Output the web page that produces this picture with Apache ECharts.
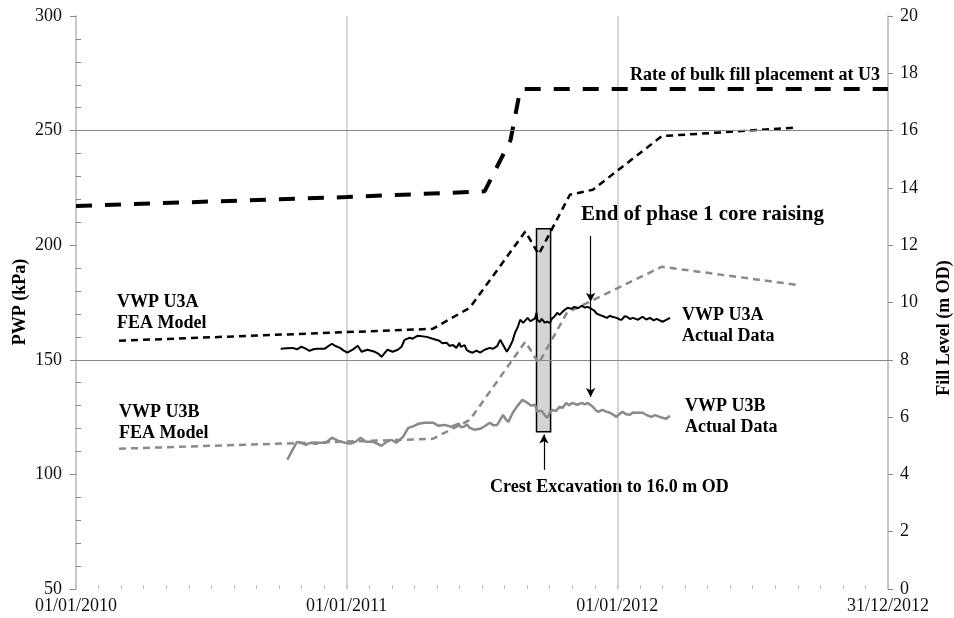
<!DOCTYPE html>
<html>
<head>
<meta charset="utf-8">
<script src="https://cdn.jsdelivr.net/npm/echarts@6/dist/echarts.min.js"></script>
<style>
html,body{margin:0;padding:0;background:#fff;}
#chart{width:954px;height:618px;}
</style>
</head>
<body>
<div id="chart"></div>
<script>
// ---- data (dates, kPa / m OD) ----
const xTickLabels = ['01/01/2010', '01/01/2011', '01/01/2012', '31/12/2012'];

const fillDates = ['2010-01-01', '2011-01-01', '2011-07-06', '2011-08-10', '2011-08-23', '2011-08-28', '2012-12-31'];
const fillLevel = [13.37, 13.68, 13.88, 15.67, 17.42, 17.45, 17.45];

const u3aFeaDates = ['2010-02-28', '2011-04-27', '2011-06-16', '2011-08-30', '2011-09-17', '2011-10-29', '2011-11-29', '2012-03-01', '2012-08-30'];
const u3aFeaKPa = [158.3, 163.5, 172.7, 206.0, 196.0, 222.0, 224.2, 247.6, 251.3];

const u3bFeaDates = ['2010-02-28', '2011-04-27', '2011-06-16', '2011-08-30', '2011-09-17', '2011-10-25', '2012-03-01', '2012-08-30'];
const u3bFeaKPa = [111.2, 115.5, 123.8, 157.9, 148.5, 170.5, 190.6, 182.7];

const u3aActual = [
  ['2010-10-04',154.8],['2010-10-12',155.0],['2010-10-20',155.2],['2010-10-26',154.6],['2010-11-01',155.7],
  ['2010-11-06',155.0],['2010-11-12',153.9],['2010-11-17',154.6],['2010-11-22',154.8],['2010-12-02',154.8],
  ['2010-12-12',157.0],['2010-12-17',156.0],['2010-12-23',155.2],['2010-12-28',154.0],['2011-01-02',153.1],
  ['2011-01-09',154.4],['2011-01-16',156.1],['2011-01-21',153.5],['2011-01-29',154.4],['2011-02-08',153.5],
  ['2011-02-13',152.6],['2011-02-17',151.3],['2011-02-25',154.4],['2011-03-04',153.5],['2011-03-11',154.4],
  ['2011-03-16',155.7],['2011-03-20',158.7],['2011-03-27',159.6],['2011-03-31',159.2],['2011-04-07',160.5],
  ['2011-04-19',160.0],['2011-04-27',159.2],['2011-05-06',158.3],['2011-05-10',157.2],['2011-05-16',157.4],
  ['2011-05-20',156.0],['2011-05-24',156.5],['2011-05-29',155.2],['2011-06-02',157.4],['2011-06-04',155.6],
  ['2011-06-06',155.2],['2011-06-09',156.4],['2011-06-12',154.2],['2011-06-16',153.5],['2011-06-20',153.1],
  ['2011-06-25',154.0],['2011-06-30',153.1],['2011-07-06',154.4],['2011-07-13',155.2],['2011-07-17',154.8],
  ['2011-07-23',156.0],['2011-07-27',158.7],['2011-07-31',156.5],['2011-08-05',153.5],['2011-08-09',155.7],
  ['2011-08-13',158.5],['2011-08-16',161.8],['2011-08-20',164.5],['2011-08-23',167.5],['2011-08-27',166.1],
  ['2011-09-02',168.3],['2011-09-06',166.8],['2011-09-09',167.5],['2011-09-12',168.0],['2011-09-14',170.5],
  ['2011-09-15',167.5],['2011-09-18',166.4],['2011-09-21',167.9],['2011-09-25',166.2],['2011-09-28',166.6],
  ['2011-10-02',166.1],['2011-10-05',168.0],['2011-10-08',168.8],['2011-10-12',170.5],['2011-10-15',169.6],
  ['2011-10-19',170.9],['2011-10-22',171.8],['2011-10-26',172.7],['2011-10-31',172.2],['2011-11-04',173.1],
  ['2011-11-09',172.5],['2011-11-14',173.6],['2011-11-18',172.8],['2011-11-22',173.1],['2011-11-26',172.4],
  ['2011-12-01',171.4],['2011-12-04',170.2],['2011-12-08',169.6],['2011-12-13',169.0],['2011-12-18',168.3],
  ['2011-12-22',169.2],['2011-12-25',168.8],['2011-12-31',168.3],['2012-01-04',167.6],['2012-01-07',167.5],
  ['2012-01-11',169.0],['2012-01-14',168.8],['2012-01-18',167.8],['2012-01-22',168.3],['2012-01-29',167.5],
  ['2012-02-04',168.8],['2012-02-09',167.6],['2012-02-14',168.3],['2012-02-19',167.2],['2012-02-23',167.9],
  ['2012-03-02',166.6],['2012-03-07',167.4],['2012-03-12',168.3]
];

const u3bActual = [
  ['2010-10-13',106.4],['2010-10-20',110.7],['2010-10-26',114.2],['2010-11-01',113.8],['2010-11-07',112.9],
  ['2010-11-11',113.6],['2010-11-15',113.8],['2010-11-20',113.2],['2010-11-24',113.8],['2010-12-04',113.8],
  ['2010-12-12',116.0],['2010-12-20',114.7],['2010-12-30',113.8],['2011-01-06',113.4],['2011-01-13',114.2],
  ['2011-01-20',116.0],['2011-01-27',114.2],['2011-02-06',114.2],['2011-02-17',112.5],['2011-02-24',114.2],
  ['2011-03-02',115.1],['2011-03-09',113.8],['2011-03-18',116.4],['2011-03-25',120.3],['2011-04-02',121.2],
  ['2011-04-08',122.1],['2011-04-16',122.5],['2011-04-28',122.5],['2011-05-05',121.2],['2011-05-13',121.6],
  ['2011-05-22',120.8],['2011-06-01',122.1],['2011-06-04',120.6],['2011-06-08',120.8],['2011-06-12',121.8],
  ['2011-06-16',120.3],['2011-06-22',119.5],['2011-06-30',119.9],['2011-07-06',121.0],['2011-07-13',122.5],
  ['2011-07-18',121.4],['2011-07-23',121.6],['2011-07-31',126.0],['2011-08-04',123.8],['2011-08-07',122.9],
  ['2011-08-13',126.9],['2011-08-19',129.8],['2011-08-26',132.5],['2011-09-02',131.2],['2011-09-07',130.0],
  ['2011-09-12',130.4],['2011-09-15',127.3],['2011-09-19',127.8],['2011-09-22',127.3],['2011-09-26',125.5],
  ['2011-09-29',124.7],['2011-10-02',127.0],['2011-10-06',128.2],['2011-10-10',127.6],['2011-10-15',129.5],
  ['2011-10-19',129.0],['2011-10-24',131.2],['2011-10-28',130.2],['2011-11-01',131.2],['2011-11-08',130.4],
  ['2011-11-14',131.2],['2011-11-18',130.6],['2011-11-22',131.2],['2011-11-29',129.5],['2011-12-03',128.0],
  ['2011-12-06',127.3],['2011-12-12',128.2],['2011-12-17',127.4],['2011-12-22',126.9],['2011-12-31',125.1],
  ['2012-01-04',126.4],['2012-01-08',127.3],['2012-01-13',126.2],['2012-01-18',126.0],['2012-01-22',127.0],
  ['2012-01-27',126.9],['2012-02-04',126.9],['2012-02-10',125.8],['2012-02-16',125.1],['2012-02-21',125.9],
  ['2012-02-27',125.1],['2012-03-03',124.6],['2012-03-07',124.3],['2012-03-12',125.6]
];

// annotations (data coordinates)
const crestBar = { from: '2011-09-14', to: '2011-10-03', low: 118.6, high: 207.2 };
const phase1Date = '2011-11-26';
const phase1ArrowKPa = [204.0, 175.3, 133.8];
const crestArrowDate = '2011-09-24';
const crestArrowKPa = [102.0, 117.4];

// ---- helpers ----
const T0 = Date.parse('2010-01-01');
function day(s) { return (Date.parse(s) - T0) / 86400000; }
function zipDates(dates, vals) { return dates.map((d, i) => [day(d), vals[i]]); }
function pairsToDays(arr) { return arr.map(p => [day(p[0]), p[1]]); }

const SERIF = '"Liberation Serif", "Times New Roman", serif';
const chart = echarts.init(document.getElementById('chart'));

const option = {
  animation: false,
  backgroundColor: '#ffffff',
  grid: { left: 76, right: 66, top: 16, bottom: 29, containLabel: false },
  xAxis: {
    type: 'value', min: 0, max: 1095, interval: 365,
    axisLine: { show: false },
    axisTick: { show: true, inside: true, length: 4, lineStyle: { color: '#bbbbbb', width: 1 } },
    minorTick: { show: true, splitNumber: 12, length: 4, lineStyle: { color: '#bbbbbb', width: 1 } },
    splitLine: { show: true, lineStyle: { color: '#c8c8c8', width: 1.5 } },
    axisLabel: {
      margin: 8, fontFamily: SERIF, fontSize: 18, color: '#111',
      formatter: function (v) { return xTickLabels[Math.round(v / 365)] || ''; }
    }
  },
  yAxis: [
    {
      type: 'value', min: 50, max: 300, interval: 50, position: 'left',
      axisLine: { show: true, lineStyle: { color: '#c8c8c8', width: 2 } },
      axisTick: { show: true, length: 6, lineStyle: { color: '#888', width: 1 } },
      minorTick: { show: true, splitNumber: 5, length: -5, lineStyle: { color: '#888', width: 1 } },
      splitLine: { show: false },
      axisLabel: { margin: 14, fontFamily: SERIF, fontSize: 18, color: '#111' }
    },
    {
      type: 'value', min: 0, max: 20, interval: 2, position: 'right',
      axisLine: { show: true, lineStyle: { color: '#c8c8c8', width: 2 } },
      axisTick: { show: true, length: 5, lineStyle: { color: '#888', width: 1 } },
      splitLine: { show: false },
      axisLabel: { margin: 12, fontFamily: SERIF, fontSize: 18, color: '#111' }
    }
  ],
  series: [
    {
      name: 'background', type: 'line', data: [], z: 1, silent: true,
      markLine: {
        silent: true, symbol: ['none', 'none'], label: { show: false },
        lineStyle: { color: '#888888', width: 1, type: 'solid' },
        data: [{ yAxis: 150 }, { yAxis: 250 }]
      },
      markArea: {
        silent: true,
        itemStyle: { color: '#d4d4d4', borderColor: '#000', borderWidth: 1.5 },
        data: [[{ xAxis: day(crestBar.from), yAxis: crestBar.high }, { xAxis: day(crestBar.to), yAxis: crestBar.low }]]
      }
    },
    {
      name: 'Rate of bulk fill placement at U3', type: 'line', yAxisIndex: 1, z: 3,
      data: zipDates(fillDates, fillLevel), showSymbol: false,
      lineStyle: { color: '#000', width: 4, type: [16, 13] }
    },
    {
      name: 'VWP U3A FEA Model', type: 'line', z: 3,
      data: zipDates(u3aFeaDates, u3aFeaKPa), showSymbol: false,
      lineStyle: { color: '#000', width: 2.5, type: [7, 5] }
    },
    {
      name: 'VWP U3B FEA Model', type: 'line', z: 3,
      data: zipDates(u3bFeaDates, u3bFeaKPa), showSymbol: false,
      lineStyle: { color: '#8a8a8a', width: 2.5, type: [7, 5] }
    },
    {
      name: 'VWP U3A Actual Data', type: 'line', z: 4,
      data: pairsToDays(u3aActual), showSymbol: false,
      lineStyle: { color: '#000', width: 2 }
    },
    {
      name: 'VWP U3B Actual Data', type: 'line', z: 4,
      data: pairsToDays(u3bActual), showSymbol: false,
      lineStyle: { color: '#8a8a8a', width: 2.5 }
    },
    {
      name: 'arrows', type: 'line', data: [], z: 6, silent: true,
      markLine: {
        silent: true, symbol: ['none', 'arrow'], symbolSize: [7, 9], label: { show: false },
        lineStyle: { color: '#000', width: 1.2, type: 'solid' },
        data: [
          [{ coord: [day(phase1Date), phase1ArrowKPa[0]] }, { coord: [day(phase1Date), phase1ArrowKPa[1]] }],
          [{ coord: [day(phase1Date), phase1ArrowKPa[1]] }, { coord: [day(phase1Date), phase1ArrowKPa[2]] }],
          [{ coord: [day(crestArrowDate), crestArrowKPa[0]] }, { coord: [day(crestArrowDate), crestArrowKPa[1]] }]
        ]
      }
    }
  ],
  graphic: [
    { type: 'text', left: 630, top: 66, style: { text: 'Rate of bulk fill placement at U3', font: 'bold 18px ' + SERIF, fill: '#000' } },
    { type: 'text', left: 581, top: 204, style: { text: 'End of phase 1 core raising', font: 'bold 21px ' + SERIF, fill: '#000' } },
    { type: 'text', left: 117, top: 293, style: { text: 'VWP U3A', font: 'bold 18px ' + SERIF, fill: '#000' } },
    { type: 'text', left: 117, top: 314, style: { text: 'FEA Model', font: 'bold 18px ' + SERIF, fill: '#000' } },
    { type: 'text', left: 119, top: 403, style: { text: 'VWP U3B', font: 'bold 18px ' + SERIF, fill: '#000' } },
    { type: 'text', left: 119, top: 424, style: { text: 'FEA Model', font: 'bold 18px ' + SERIF, fill: '#000' } },
    { type: 'text', left: 682, top: 306, style: { text: 'VWP U3A', font: 'bold 18px ' + SERIF, fill: '#000' } },
    { type: 'text', left: 682, top: 327, style: { text: 'Actual Data', font: 'bold 18px ' + SERIF, fill: '#000' } },
    { type: 'text', left: 685, top: 397, style: { text: 'VWP U3B', font: 'bold 18px ' + SERIF, fill: '#000' } },
    { type: 'text', left: 685, top: 418, style: { text: 'Actual Data', font: 'bold 18px ' + SERIF, fill: '#000' } },
    { type: 'text', left: 490, top: 478, style: { text: 'Crest Excavation to 16.0 m OD', font: 'bold 18px ' + SERIF, fill: '#000' } },
    { type: 'text', x: 20, y: 302, rotation: Math.PI / 2,
      style: { text: 'PWP (kPa)', font: 'bold 18px ' + SERIF, fill: '#000', align: 'center', verticalAlign: 'middle' } },
    { type: 'text', x: 944, y: 328, rotation: Math.PI / 2,
      style: { text: 'Fill Level (m OD)', font: 'bold 18px ' + SERIF, fill: '#000', align: 'center', verticalAlign: 'middle' } }
  ]
};
chart.setOption(option);
</script>
</body>
</html>
